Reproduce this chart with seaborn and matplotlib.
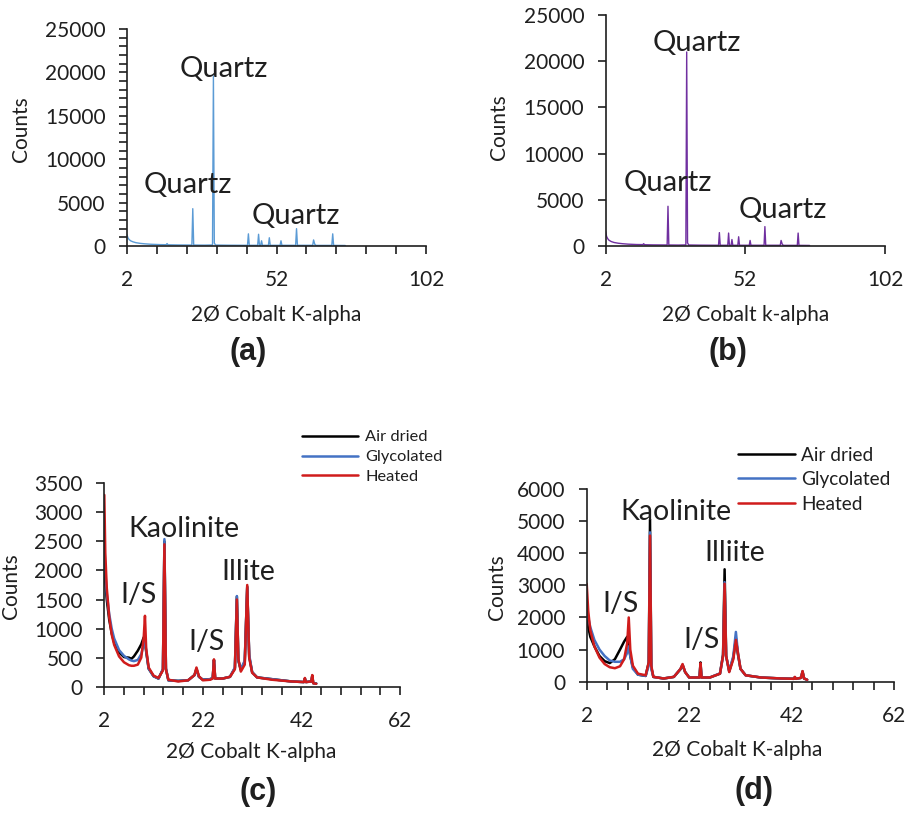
import numpy as np
import pandas as pd
import matplotlib
matplotlib.use("Agg")
import matplotlib.pyplot as plt
import seaborn as sns

# ---------------- data ----------------
# (a) bulk sample 1
a_theta = [2.0, 2.3, 2.7, 3.2, 4.0, 5.0, 6.5, 8.0, 10.0, 13.0,
           15.1, 15.4, 15.7, 19.0, 23.7, 24.0, 24.3, 28.0, 30.6, 30.9,
           31.2, 31.6, 36.0, 42.3, 42.6, 42.9, 45.7, 46.0, 46.3, 46.7,
           47.0, 47.3, 49.3, 49.6, 49.9, 53.2, 53.5, 53.8, 58.4, 58.7,
           59.0, 64.1, 64.4, 64.8, 65.2, 70.5, 70.8, 71.1, 75.0]
a_counts = [1300, 950, 750, 600, 480, 380, 300, 250, 200, 160,
            150, 280, 140, 120, 110, 4300, 110, 100, 120, 19600,
            350, 110, 90, 80, 1400, 80, 80, 1350, 80, 80,
            600, 80, 80, 950, 80, 80, 600, 80, 80, 2000,
            80, 80, 700, 200, 70, 70, 1400, 70, 60]

# (b) bulk sample 2
b_theta = [2.0, 2.3, 2.7, 3.2, 4.0, 5.0, 6.5, 8.0, 10.0, 13.0,
           15.3, 15.6, 15.9, 19.0, 24.0, 24.3, 24.6, 28.0, 30.7, 31.0,
           31.3, 31.7, 36.0, 42.4, 42.7, 43.0, 45.7, 46.0, 46.3, 46.9,
           47.2, 47.5, 49.3, 49.6, 49.9, 53.4, 53.7, 54.0, 58.7, 59.0,
           59.3, 64.5, 64.8, 65.2, 65.6, 70.6, 70.9, 71.2, 75.0]
b_counts = [1550, 1050, 800, 620, 480, 380, 300, 250, 200, 160,
            150, 250, 140, 120, 110, 4300, 110, 100, 120, 21000,
            350, 110, 90, 80, 1450, 80, 80, 1400, 80, 80,
            700, 80, 80, 1000, 80, 80, 600, 80, 80, 2100,
            80, 80, 600, 200, 70, 70, 1400, 70, 60]

series_names = ["Air dried", "Glycolated", "Heated"]

# (c) clay fraction sample 1
c_theta = [2.0, 2.2, 2.5, 3.0, 3.5, 4.0, 5.0, 6.0, 7.0, 7.5,
           8.0, 8.8, 9.5, 10.0, 10.25, 10.5, 11.0, 12.0, 13.0, 13.9,
           14.2, 14.5, 15.0, 17.0, 19.0, 20.3, 20.7, 21.2, 22.0, 23.5,
           24.0, 24.25, 24.5, 26.0, 27.5, 28.5, 28.9, 29.2, 29.7, 30.5,
           31.0, 31.4, 32.0, 33.0, 36.0, 40.0, 42.5, 42.7, 42.9, 44.0,
           44.2, 44.4, 45.0]
c_air = [2100, 1800, 1500, 1150, 920, 760, 590, 510, 500, 480,
         520, 620, 730, 850, 780, 600, 310, 180, 140, 300,
         2500, 310, 110, 100, 110, 200, 310, 170, 120, 130,
         150, 460, 140, 140, 170, 320, 1550, 450, 290, 430,
         1720, 520, 250, 160, 130, 90, 80, 140, 80, 90,
         190, 60, 55]
c_glycolated = [2500, 2000, 1600, 1250, 1000, 830, 630, 530, 470, 450,
                440, 460, 560, 720, 800, 620, 310, 180, 140, 300,
                2540, 320, 110, 100, 110, 200, 300, 170, 120, 130,
                150, 450, 140, 140, 170, 330, 1560, 450, 300, 450,
                1700, 550, 250, 160, 130, 90, 80, 140, 80, 90,
                180, 60, 55]
c_heated = [3300, 2300, 1700, 1200, 900, 720, 520, 420, 370, 360,
            360, 380, 500, 850, 1220, 650, 330, 190, 150, 280,
            2450, 300, 120, 90, 110, 200, 330, 180, 110, 120,
            140, 470, 140, 140, 170, 300, 1500, 480, 260, 380,
            1750, 500, 240, 160, 120, 90, 80, 150, 80, 90,
            200, 60, 50]

# (d) clay fraction sample 2
d_theta = [2.0, 2.3, 2.7, 3.5, 4.5, 5.5, 6.5, 7.5, 8.5, 9.3,
           9.9, 10.2, 10.5, 11.0, 12.0, 13.5, 14.1, 14.35, 14.6, 15.0,
           17.0, 19.0, 20.3, 20.7, 21.2, 22.0, 24.0, 24.2, 24.4, 26.0,
           28.0, 28.6, 28.9, 29.2, 29.8, 30.6, 31.1, 31.5, 32.0, 33.0,
           36.0, 40.0, 42.4, 42.6, 42.8, 43.8, 44.1, 44.4, 45.0]
d_air = [2000, 1700, 1400, 1100, 800, 640, 580, 700, 1000, 1250,
         1400, 1150, 800, 450, 220, 180, 600, 5050, 450, 150,
         100, 150, 390, 520, 300, 130, 130, 600, 130, 130,
         250, 850, 3500, 800, 320, 750, 1350, 850, 400, 200,
         130, 100, 90, 140, 90, 120, 320, 100, 60]
d_glycolated = [2400, 2000, 1700, 1300, 1000, 800, 660, 620, 620, 700,
                900, 1100, 800, 400, 220, 180, 500, 4650, 400, 150,
                100, 150, 400, 530, 300, 130, 130, 560, 130, 130,
                260, 800, 3100, 800, 330, 800, 1550, 900, 400, 200,
                130, 100, 90, 140, 90, 120, 300, 100, 60]
d_heated = [3050, 2200, 1600, 1100, 750, 550, 450, 420, 480, 700,
            1200, 2000, 1000, 500, 250, 200, 600, 4550, 500, 150,
            100, 150, 400, 550, 300, 130, 130, 580, 130, 130,
            250, 800, 3050, 800, 300, 700, 1300, 900, 400, 200,
            130, 100, 90, 150, 90, 120, 330, 100, 60]

# ---------------- styling ----------------
sns.set_style("ticks")
plt.rcParams["font.family"] = ["Lato", "DejaVu Sans"]

W, H = 905, 813
fig = plt.figure(figsize=(W / 100, H / 100), dpi=100)
INK = "#1f1f1f"
palette = {"Air dried": "#000000", "Glycolated": "#4472C4", "Heated": "#D01C1C"}


def px_axes(l, r, t, b):
    return fig.add_axes([l / W, 1 - b / H, (r - l) / W, (b - t) / H])


def style(ax):
    sns.despine(ax=ax)
    for s in ("left", "bottom"):
        ax.spines[s].set_linewidth(1.2)
        ax.spines[s].set_color(INK)
    ax.tick_params(which="both", direction="out", length=5.5, width=1.2,
                   color=INK, labelsize=15, labelcolor=INK)
    ax.tick_params(axis="y", pad=10)
    ax.tick_params(axis="x", pad=12)


def labels(ax, xlabel, xl_pos, yl_pos):
    ax.set_xlabel(xlabel, fontsize=15, color=INK)
    ax.set_ylabel("Counts", fontsize=15, color=INK)
    ax.xaxis.set_label_coords(*xl_pos)
    ax.yaxis.set_label_coords(*yl_pos)
    ax.xaxis.label.set_va("center")
    ax.yaxis.label.set_va("center")


def long_df(theta, air, gly, heat):
    n = len(theta)
    return pd.DataFrame({
        "theta": list(theta) * 3,
        "counts": list(air) + list(gly) + list(heat),
        "Treatment": [series_names[0]] * n + [series_names[1]] * n + [series_names[2]] * n,
    })


ANN_Q = 21
ANN_C = 20.5

# ---------------- panel (a) ----------------
ax_a = px_axes(127, 426, 29, 246)
sns.lineplot(x=a_theta, y=a_counts, color="#5B9BD5", linewidth=1.0,
             estimator=None, ax=ax_a)
ax_a.set_xlim(2, 102)
ax_a.set_ylim(0, 25000)
ax_a.set_xticks([2, 52, 102])
ax_a.set_xticks(list(range(12, 102, 10)), minor=True)
ax_a.set_yticks(list(range(0, 25001, 5000)))
ax_a.set_yticks(list(range(0, 25001, 1000)), minor=True)
style(ax_a)
labels(ax_a, "2Ø Cobalt K-alpha", (0.5, -0.318), (-0.356, 0.537))
ax_a.text(34.4, 19470, "Quartz", ha="center", va="baseline", fontsize=ANN_Q, color=INK)
ax_a.text(22.3, 6100, "Quartz", ha="center", va="baseline", fontsize=ANN_Q, color=INK)
ax_a.text(58.4, 2530, "Quartz", ha="center", va="baseline", fontsize=ANN_Q, color=INK)

# ---------------- panel (b) ----------------
ax_b = px_axes(605.7, 885, 15, 246)
sns.lineplot(x=b_theta, y=b_counts, color="#7030A0", linewidth=1.0,
             estimator=None, ax=ax_b)
ax_b.set_xlim(2, 102)
ax_b.set_ylim(0, 25000)
ax_b.set_xticks([2, 52, 102])
ax_b.set_yticks(list(range(0, 25001, 5000)))
style(ax_b)
labels(ax_b, "2Ø Cobalt k-alpha", (0.5, -0.299), (-0.382, 0.516))
ax_b.text(34.5, 21130, "Quartz", ha="center", va="baseline", fontsize=ANN_Q, color=INK)
ax_b.text(24.4, 5980, "Quartz", ha="center", va="baseline", fontsize=ANN_Q, color=INK)
ax_b.text(65.3, 2990, "Quartz", ha="center", va="baseline", fontsize=ANN_Q, color=INK)

# ---------------- panel (c) ----------------
ax_c = px_axes(104.3, 400, 483.3, 686.7)
sns.lineplot(data=long_df(c_theta, c_air, c_glycolated, c_heated),
             x="theta", y="counts", hue="Treatment", hue_order=series_names,
             palette=palette, linewidth=1.8, estimator=None, sort=False, ax=ax_c)
ax_c.set_xlim(2, 62)
ax_c.set_ylim(0, 3500)
ax_c.set_xticks([2, 22, 42, 62])
ax_c.set_xticks(list(range(2, 63, 4)), minor=True)
ax_c.set_yticks(list(range(0, 3501, 500)))
style(ax_c)
labels(ax_c, "2Ø Cobalt K-alpha", (0.496, -0.321), (-0.314, 0.495))
ax_c.text(18.2, 2580, "Kaolinite", ha="center", va="baseline", fontsize=ANN_C, color=INK)
ax_c.text(8.9, 1434, "I/S", ha="center", va="baseline", fontsize=ANN_C, color=INK)
ax_c.text(22.8, 631, "I/S", ha="center", va="baseline", fontsize=ANN_C, color=INK)
ax_c.text(31.3, 1835, "Illite", ha="center", va="baseline", fontsize=ANN_C, color=INK)
h, l = ax_c.get_legend_handles_labels()
ax_c.legend(h, l, loc="upper left", bbox_to_anchor=(302 / W, 1 - 430 / H),
            bbox_transform=fig.transFigure, frameon=False, fontsize=11.8,
            borderpad=0, borderaxespad=0, handlelength=3.4, handletextpad=0.45,
            labelspacing=0.33, labelcolor=INK)

# ---------------- panel (d) ----------------
ax_d = px_axes(586.7, 894.3, 489, 681.7)
sns.lineplot(data=long_df(d_theta, d_air, d_glycolated, d_heated),
             x="theta", y="counts", hue="Treatment", hue_order=series_names,
             palette=palette, linewidth=1.8, estimator=None, sort=False, ax=ax_d)
ax_d.set_xlim(2, 62)
ax_d.set_ylim(0, 6000)
ax_d.set_xticks([2, 22, 42, 62])
ax_d.set_xticks(list(range(2, 63, 4)), minor=True)
ax_d.set_yticks(list(range(0, 6001, 1000)))
style(ax_d)
labels(ax_d, "2Ø Cobalt K-alpha", (0.49, -0.354), (-0.293, 0.493))
ax_d.text(19.5, 5035, "Kaolinite", ha="center", va="baseline", fontsize=ANN_C, color=INK)
ax_d.text(8.65, 2180, "I/S", ha="center", va="baseline", fontsize=ANN_C, color=INK)
ax_d.text(24.3, 1040, "I/S", ha="center", va="baseline", fontsize=ANN_C, color=INK)
ax_d.text(30.9, 3768, "Illiite", ha="center", va="baseline", fontsize=ANN_C, color=INK)
h, l = ax_d.get_legend_handles_labels()
ax_d.legend(h, l, loc="upper left", bbox_to_anchor=(737.7 / W, 1 - 446.5 / H),
            bbox_transform=fig.transFigure, frameon=False, fontsize=13.7,
            borderpad=0, borderaxespad=0, handlelength=3.0, handletextpad=0.35,
            labelspacing=0.4, labelcolor=INK)

# ---------------- panel tags ----------------
for tag, x, y in [("(a)", 248, 352), ("(b)", 728, 352), ("(c)", 258, 792), ("(d)", 754, 791)]:
    fig.text(x / W, 1 - y / H, tag, ha="center", va="center", fontsize=22,
             fontweight="bold", family=["Liberation Sans", "DejaVu Sans"], color=INK)

fig.savefig("out.png", dpi=100)
